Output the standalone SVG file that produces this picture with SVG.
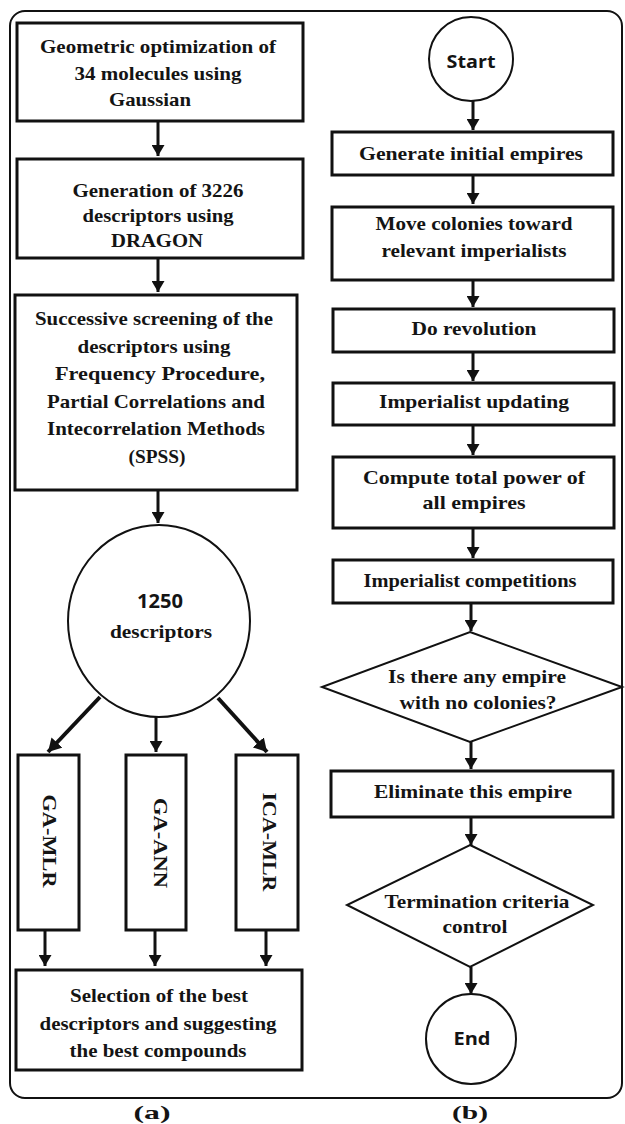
<svg xmlns="http://www.w3.org/2000/svg" width="625" height="1124" viewBox="0 0 625 1124">
<style>
.t{font-family:"Liberation Serif","Times New Roman",serif;font-weight:bold;font-size:19px;text-anchor:middle;fill:#141414}
.s{font-family:"Open Sans","Liberation Sans",sans-serif;font-weight:bold;text-anchor:middle;fill:#141414}
.box{fill:#fff;stroke:#111;stroke-width:3}
.thin{fill:#fff;stroke:#111;stroke-width:2}
.con{stroke:#111;stroke-width:3;fill:none;marker-end:url(#ah)}
.dg{stroke:#111;stroke-width:4;fill:none;marker-end:url(#ah2)}
</style>
<defs>
<marker id="ah" markerUnits="userSpaceOnUse" markerWidth="13" markerHeight="13" refX="11" refY="6.5" orient="auto"><path d="M0,0 L11,6.5 L0,13 z" fill="#111"/></marker>
<marker id="ah2" markerUnits="userSpaceOnUse" markerWidth="15" markerHeight="15" refX="13" refY="7.5" orient="auto"><path d="M0,0 L13,7.5 L0,15 z" fill="#111"/></marker>
</defs>
<rect x="10" y="11" width="612" height="1087" rx="15" fill="none" stroke="#111" stroke-width="2"/>

<g id="connectors">
<line class="con" x1="158" y1="121" x2="158" y2="156"/>
<line class="con" x1="158" y1="258" x2="158" y2="292"/>
<line class="con" x1="158" y1="490" x2="158" y2="523"/>
<line class="dg" x1="100" y1="697" x2="48" y2="752"/>
<line class="con" x1="156" y1="717" x2="156" y2="752"/>
<line class="dg" x1="218" y1="698" x2="267" y2="752"/>
<line class="con" x1="45" y1="930" x2="45" y2="966"/>
<line class="con" x1="155" y1="930" x2="155" y2="966"/>
<line class="con" x1="266" y1="930" x2="266" y2="966"/>

<line class="con" x1="473" y1="101" x2="473" y2="130"/>
<line class="con" x1="473" y1="175" x2="473" y2="204"/>
<line class="con" x1="473" y1="280" x2="473" y2="307"/>
<line class="con" x1="473" y1="352" x2="473" y2="381"/>
<line class="con" x1="473" y1="425" x2="473" y2="455"/>
<line class="con" x1="473" y1="528" x2="473" y2="558"/>
<line class="con" x1="471" y1="603" x2="471" y2="631"/>
<line class="con" x1="471" y1="742" x2="471" y2="769"/>
<line class="con" x1="471" y1="817" x2="471" y2="845"/>
<line class="con" x1="471" y1="967" x2="471" y2="994"/>
</g>

<g id="n1"><rect class="box" x="17" y="23" width="286" height="98"/>
<text class="t" x="158" y="53" textLength="236" lengthAdjust="spacingAndGlyphs">Geometric optimization of</text>
<text class="t" x="158" y="80" textLength="167" lengthAdjust="spacingAndGlyphs">34 molecules using</text>
<text class="t" x="150" y="106" textLength="82" lengthAdjust="spacingAndGlyphs">Gaussian</text></g>

<g id="n2"><rect class="box" x="17" y="159" width="286" height="99"/>
<text class="t" x="158" y="197" textLength="171" lengthAdjust="spacingAndGlyphs">Generation of 3226</text>
<text class="t" x="158" y="222" textLength="151" lengthAdjust="spacingAndGlyphs">descriptors using</text>
<text class="t" x="157" y="247" textLength="92" lengthAdjust="spacingAndGlyphs">DRAGON</text></g>

<g id="n3"><rect class="box" x="15" y="295" width="282" height="195"/>
<text class="t" x="154" y="325" textLength="238" lengthAdjust="spacingAndGlyphs">Successive screening of the</text>
<text class="t" x="154" y="353" textLength="153" lengthAdjust="spacingAndGlyphs">descriptors using</text>
<text class="t" x="160" y="380" textLength="210" lengthAdjust="spacingAndGlyphs">Frequency Procedure,</text>
<text class="t" x="156" y="408" textLength="218" lengthAdjust="spacingAndGlyphs">Partial Correlations and</text>
<text class="t" x="156" y="435" textLength="218" lengthAdjust="spacingAndGlyphs">Intecorrelation Methods</text>
<text class="t" x="157" y="463" textLength="57" lengthAdjust="spacingAndGlyphs">(SPSS)</text></g>

<g id="n4"><ellipse class="thin" cx="159" cy="621" rx="91" ry="96"/>
<text class="s" x="160" y="608" font-size="20" textLength="46" lengthAdjust="spacingAndGlyphs">1250</text>
<text class="t" x="161" y="638" textLength="102" lengthAdjust="spacingAndGlyphs">descriptors</text></g>

<g id="n5"><rect class="box" x="18" y="755" width="61" height="175"/>
<text class="t" transform="translate(49,841) rotate(90)" x="0" y="6" textLength="93" lengthAdjust="spacingAndGlyphs">GA-MLR</text></g>
<g id="n6"><rect class="box" x="126" y="755" width="60" height="175"/>
<text class="t" transform="translate(160,843) rotate(90)" x="0" y="6" textLength="90" lengthAdjust="spacingAndGlyphs">GA-ANN</text></g>
<g id="n7"><rect class="box" x="236" y="755" width="62" height="175"/>
<text class="t" transform="translate(269,842) rotate(90)" x="0" y="6" textLength="99" lengthAdjust="spacingAndGlyphs">ICA-MLR</text></g>

<g id="n8"><rect class="box" x="16" y="970" width="286" height="100"/>
<text class="t" x="159" y="1002" textLength="178" lengthAdjust="spacingAndGlyphs">Selection of the best</text>
<text class="t" x="158" y="1030" textLength="237" lengthAdjust="spacingAndGlyphs">descriptors and suggesting</text>
<text class="t" x="158" y="1057" textLength="177" lengthAdjust="spacingAndGlyphs">the best compounds</text></g>

<g id="r1"><circle class="thin" cx="471" cy="59" r="42"/>
<text class="s" x="471" y="68" font-size="18" textLength="49" lengthAdjust="spacingAndGlyphs">Start</text></g>
<g id="r2"><rect class="box" x="332" y="132" width="281" height="43"/>
<text class="t" x="471" y="160" textLength="224" lengthAdjust="spacingAndGlyphs">Generate initial empires</text></g>
<g id="r3"><rect class="box" x="332" y="207" width="281" height="73"/>
<text class="t" x="474" y="230" textLength="197" lengthAdjust="spacingAndGlyphs">Move colonies toward</text>
<text class="t" x="474" y="257" textLength="185" lengthAdjust="spacingAndGlyphs">relevant imperialists</text></g>
<g id="r4"><rect class="box" x="333" y="309" width="281" height="43"/>
<text class="t" x="474" y="335" textLength="125" lengthAdjust="spacingAndGlyphs">Do revolution</text></g>
<g id="r5"><rect class="box" x="333" y="383" width="281" height="42"/>
<text class="t" x="474" y="408" textLength="190" lengthAdjust="spacingAndGlyphs">Imperialist updating</text></g>
<g id="r6"><rect class="box" x="333" y="457" width="281" height="71"/>
<text class="t" x="474" y="484" textLength="222" lengthAdjust="spacingAndGlyphs">Compute total power of</text>
<text class="t" x="474" y="509" textLength="103" lengthAdjust="spacingAndGlyphs">all empires</text></g>
<g id="r7"><rect class="box" x="333" y="560" width="280" height="43"/>
<text class="t" x="470" y="587" textLength="213" lengthAdjust="spacingAndGlyphs">Imperialist competitions</text></g>
<g id="r8"><polygon class="thin" stroke-width="2.5" points="470,632 622,687 470,742 322,687"/>
<text class="t" x="477" y="683" textLength="178" lengthAdjust="spacingAndGlyphs">Is there any empire</text>
<text class="t" x="478" y="709" textLength="157" lengthAdjust="spacingAndGlyphs">with no colonies?</text></g>
<g id="r9"><rect class="box" x="331" y="771" width="282" height="46"/>
<text class="t" x="473" y="798" textLength="198" lengthAdjust="spacingAndGlyphs">Eliminate this empire</text></g>
<g id="r10"><polygon class="thin" stroke-width="2.5" points="470,845 593,905 470,967 347,905"/>
<text class="t" x="477" y="908" textLength="185" lengthAdjust="spacingAndGlyphs">Termination criteria</text>
<text class="t" x="475" y="933" textLength="65" lengthAdjust="spacingAndGlyphs">control</text></g>
<g id="r11"><circle class="thin" cx="471" cy="1039" r="45"/>
<text class="s" x="472" y="1045" font-size="17" textLength="37" lengthAdjust="spacingAndGlyphs">End</text></g>

<text class="t" x="152" y="1119" textLength="37" lengthAdjust="spacingAndGlyphs">(a)</text>
<text class="t" x="470" y="1119" textLength="36" lengthAdjust="spacingAndGlyphs">(b)</text>
</svg>
